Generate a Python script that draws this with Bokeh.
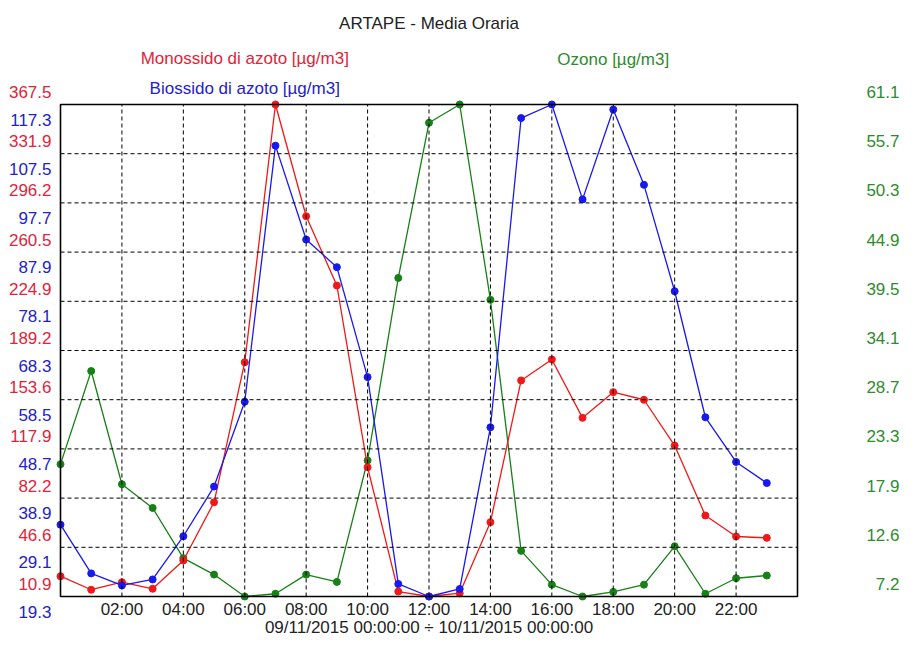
from bokeh.plotting import figure
from bokeh.models import Range1d
from bokeh.embed import file_html
from bokeh.resources import INLINE
from bokeh.core.properties import value

# ---- data -------------------------------------------------------------
hours = list(range(24))
no_vals = [25.6, 15.8, 21.3, 16.5, 37.0, 79.2, 180.7, 367.5, 286.5, 236.3, 104.6, 14.5,
           10.9, 13.3, 64.8, 167.5, 182.7, 140.4, 159.0, 153.5, 120.3, 69.6, 54.4, 53.4]
no2_vals = [33.6, 23.9, 21.5, 22.7, 31.3, 41.2, 58.1, 109.1, 90.4, 84.9, 63.0, 21.8,
            19.3, 20.8, 53.0, 114.6, 117.3, 98.4, 116.3, 101.3, 80.1, 55.0, 46.1, 41.9]
o3_vals = [21.7, 31.9, 19.5, 16.9, 11.4, 9.6, 7.2, 7.5, 9.6, 8.8, 22.1, 42.1,
           59.1, 61.1, 39.7, 12.2, 8.5, 7.2, 7.7, 8.5, 12.7, 7.5, 9.2, 9.5]

no_ticks = ["10.9", "46.6", "82.2", "117.9", "153.6", "189.2", "224.9", "260.5", "296.2", "331.9", "367.5"]
no2_ticks = ["19.3", "29.1", "38.9", "48.7", "58.5", "68.3", "78.1", "87.9", "97.7", "107.5", "117.3"]
o3_ticks = ["7.2", "12.6", "17.9", "23.3", "28.7", "34.1", "39.5", "44.9", "50.3", "55.7", "61.1"]

x_ticks = [2, 4, 6, 8, 10, 12, 14, 16, 18, 20, 22]
x_tick_labels = ["02:00", "04:00", "06:00", "08:00", "10:00", "12:00",
                 "14:00", "16:00", "18:00", "20:00", "22:00"]
x_start, x_end = 0, 24

title_text = "ARTAPE - Media Oraria"
no_name = "Monossido di azoto [µg/m3]"
no2_name = "Biossido di azoto [µg/m3]"
o3_name = "Ozono [µg/m3]"
period_text = "09/11/2015 00:00:00 ÷ 10/11/2015 00:00:00"

# ---- layout / styling -------------------------------------------------
W, H = 900, 636
PL, PR, PT, PB = 60, 797, 104, 596          # plot box in canvas pixels
FONT = "Liberation Sans"
FS = "17px"
RED, BLUE, GREEN = "#f01818", "#1818f0", "#178017"
RED_T, BLUE_T, GREEN_T = "#e0243a", "#2222cc", "#2e8b2e"
TXT = "#222222"
DASH = "4 3"


def rng(ticks):
    return float(ticks[0]), float(ticks[-1])


def tick_pos(ticks):
    lo, hi = rng(ticks)
    n = len(ticks) - 1
    return [lo + k * (hi - lo) / n for k in range(n + 1)]


def ext_range(lo, hi):
    upp = (hi - lo) / (PB - PT)
    return Range1d(lo - (H - PB) * upp, hi + PT * upp)


no_lo, no_hi = rng(no_ticks)
no2_lo, no2_hi = rng(no2_ticks)
o3_lo, o3_hi = rng(o3_ticks)
hpp = (x_end - x_start) / (PR - PL)

p = figure(width=W, height=H,
           x_range=Range1d(x_start - PL * hpp, x_end + (W - PR) * hpp),
           y_range=ext_range(no_lo, no_hi),
           output_backend="svg", toolbar_location=None,
           x_axis_location=None, y_axis_location=None,
           min_border=0, min_border_left=0, min_border_right=0,
           min_border_top=0, min_border_bottom=0)
p.extra_y_ranges = {"no2": ext_range(no2_lo, no2_hi), "o3": ext_range(o3_lo, o3_hi),
                    "px": Range1d(H, 0)}
p.extra_x_ranges = {"px": Range1d(0, W)}
p.grid.visible = False
p.outline_line_color = None
p.background_fill_color = "white"
p.border_fill_color = "white"

# ---- series -----------------------------------------------------------
p.line(hours, o3_vals, y_range_name="o3", color=GREEN, line_width=1.3)
p.scatter(hours, o3_vals, y_range_name="o3", color=GREEN, size=7)
p.line(hours, no_vals, color=RED, line_width=1.3)
p.scatter(hours, no_vals, color=RED, size=7)
p.line(hours, no2_vals, y_range_name="no2", color=BLUE, line_width=1.3)
p.scatter(hours, no2_vals, y_range_name="no2", color=BLUE, size=7)

# ---- grid (dashed, drawn over the series as in the original) ----------
gy = tick_pos(no_ticks)[1:-1]
p.segment(x0=x_ticks, y0=[no_lo] * len(x_ticks), x1=x_ticks, y1=[no_hi] * len(x_ticks),
          line_color="black", line_dash=DASH, line_width=1)
p.segment(x0=[x_start] * len(gy), y0=gy, x1=[x_end] * len(gy), y1=gy,
          line_color="black", line_dash=DASH, line_width=1)

# ---- frame box --------------------------------------------------------
p.quad(left=[x_start], right=[x_end], bottom=[no_lo], top=[no_hi],
       fill_color=None, line_color="black", line_width=1.6)


# ---- texts ------------------------------------------------------------
def txt(x, y, t, color, align="center", xr="default", yr="default"):
    p.text(x=x, y=y, text=t, text_align=align, text_baseline="middle",
           text_font=value(FONT), text_font_size=FS, text_color=color,
           x_range_name=xr, y_range_name=yr)


def shifted(ticks, px):
    lo, hi = rng(ticks)
    upp = (hi - lo) / (PB - PT)
    return [v + px * upp for v in tick_pos(ticks)]


# value scales: red above each line, blue below, green (right) above
txt([PL - 9] * len(no_ticks), shifted(no_ticks, 12.5), no_ticks, RED_T, "right", xr="px")
txt([PL - 9] * len(no2_ticks), shifted(no2_ticks, -15), no2_ticks, BLUE_T, "right", xr="px",
    yr="no2")
txt([W - 1] * len(o3_ticks), shifted(o3_ticks, 12.5), o3_ticks, GREEN_T, "right", xr="px",
    yr="o3")

# hour labels
txt(x_ticks, [PB + 13] * len(x_ticks), x_tick_labels, TXT, yr="px")

# titles
mid = (x_start + x_end) / 2
txt([mid], [PT - 80.7], [title_text], TXT, yr="px")
txt([x_start + (x_end - x_start) / 4], [PT - 46.5], [no_name], RED_T, yr="px")
txt([x_start + (x_end - x_start) / 4], [PT - 15.7], [no2_name], BLUE_T, yr="px")
txt([x_start + 3 * (x_end - x_start) / 4], [PT - 45], [o3_name], GREEN_T, yr="px")
txt([mid], [H - 9], [period_text], TXT, yr="px")

open("out.html", "w").write(file_html(p, INLINE))
